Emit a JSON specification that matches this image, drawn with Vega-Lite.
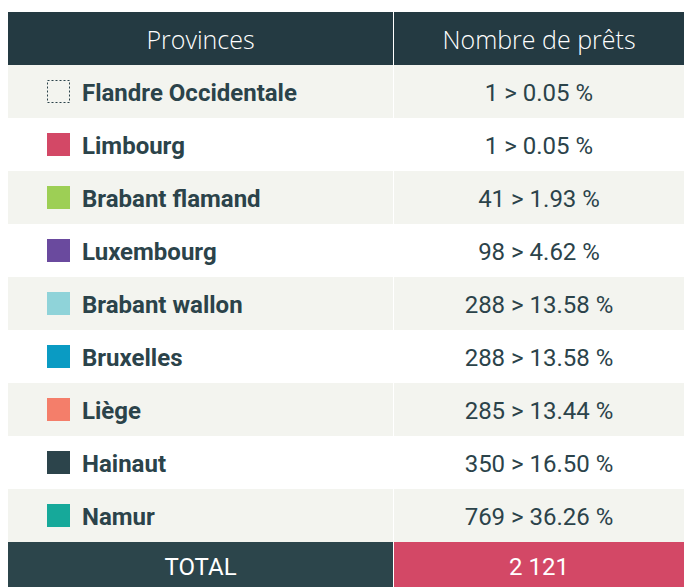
{
  "$schema": "https://vega.github.io/schema/vega-lite/v6.json",
  "padding": {"left": 8, "top": 12, "right": 0, "bottom": 0},
  "background": "#ffffff",
  "config": {"view": {"stroke": null}},
  "datasets": {
    "rows": [
      {"r": 0, "kind": "header", "province": "Provinces", "label": "Nombre de prêts"},
      {"r": 1, "kind": "odd", "province": "Flandre Occidentale", "count": 1, "pct": 0.05},
      {"r": 2, "kind": "even", "province": "Limbourg", "count": 1, "pct": 0.05},
      {"r": 3, "kind": "odd", "province": "Brabant flamand", "count": 41, "pct": 1.93},
      {"r": 4, "kind": "even", "province": "Luxembourg", "count": 98, "pct": 4.62},
      {"r": 5, "kind": "odd", "province": "Brabant wallon", "count": 288, "pct": 13.58},
      {"r": 6, "kind": "even", "province": "Bruxelles", "count": 288, "pct": 13.58},
      {"r": 7, "kind": "odd", "province": "Liège", "count": 285, "pct": 13.44},
      {"r": 8, "kind": "even", "province": "Hainaut", "count": 350, "pct": 16.50},
      {"r": 9, "kind": "odd", "province": "Namur", "count": 769, "pct": 36.26}
    ],
    "total": [{"label": "TOTAL", "value": "2 121"}]
  },
  "spacing": 0,
  "vconcat": [
    {
      "spacing": 1,
      "hconcat": [
        {
          "width": 385,
          "height": 530,
          "data": {"name": "rows"},
          "encoding": {"y": {"field": "r", "type": "ordinal", "axis": null, "scale": {"paddingInner": 0, "paddingOuter": 0}}},
          "layer": [
            {"mark": {"type": "rect"}, "encoding": {"fill": {"field": "kind", "type": "nominal", "scale": {"domain": ["header", "odd", "even"], "range": ["#243a42", "#f3f4ef", "#ffffff"]}, "legend": null}}},
            {"transform": [{"filter": "datum.kind == 'header'"}], "mark": {"type": "text", "font": "Open Sans", "fontWeight": 300, "fontSize": 25, "color": "#ffffff", "baseline": "middle", "dy": 2}, "encoding": {"text": {"field": "province"}}},
            {"transform": [{"filter": "datum.kind != 'header' && datum.province != 'Flandre Occidentale'"}], "mark": {"type": "point", "shape": "square", "size": 529, "filled": true, "opacity": 1}, "encoding": {"x": {"value": 50.5}, "color": {"field": "province", "type": "nominal", "scale": {"domain": ["Limbourg", "Brabant flamand", "Luxembourg", "Brabant wallon", "Bruxelles", "Liège", "Hainaut", "Namur"], "range": ["#d34866", "#9dcf55", "#6a4a9e", "#8fd3d9", "#0a9bc3", "#f47e6a", "#2c444b", "#16a99a"]}, "legend": null}}},
            {"transform": [{"filter": "datum.province == 'Flandre Occidentale'"}], "mark": {"type": "point", "shape": "square", "size": 484, "filled": false, "stroke": "#2b434a", "strokeWidth": 1, "strokeDash": [2, 2], "opacity": 1}, "encoding": {"x": {"value": 50.5}}},
            {"transform": [{"filter": "datum.kind != 'header'"}], "mark": {"type": "text", "font": "Roboto", "fontWeight": "bold", "fontSize": 24, "align": "left", "baseline": "middle", "dy": 2, "color": "#2b434a"}, "encoding": {"x": {"value": 74}, "text": {"field": "province"}}}
          ]
        },
        {
          "width": 290,
          "height": 530,
          "data": {"name": "rows"},
          "transform": [{"calculate": "datum.kind == 'header' ? datum.label : datum.count + ' > ' + format(datum.pct, '.2f') + ' %'", "as": "text"}],
          "encoding": {"y": {"field": "r", "type": "ordinal", "axis": null, "scale": {"paddingInner": 0, "paddingOuter": 0}}},
          "layer": [
            {"mark": {"type": "rect"}, "encoding": {"fill": {"field": "kind", "type": "nominal", "scale": {"domain": ["header", "odd", "even"], "range": ["#243a42", "#f3f4ef", "#ffffff"]}, "legend": null}}},
            {"transform": [{"filter": "datum.kind == 'header'"}], "mark": {"type": "text", "font": "Open Sans", "fontWeight": 300, "fontSize": 25, "color": "#ffffff", "baseline": "middle", "dy": 2}, "encoding": {"text": {"field": "text"}}},
            {"transform": [{"filter": "datum.kind != 'header'"}], "mark": {"type": "text", "font": "Roboto", "fontSize": 24, "baseline": "middle", "dy": 2, "color": "#2b434a"}, "encoding": {"text": {"field": "text"}}}
          ]
        }
      ]
    },
    {
      "spacing": 1,
      "hconcat": [
        {
          "width": 385,
          "height": 45,
          "data": {"name": "total"},
          "layer": [
            {"mark": {"type": "rect", "color": "#2c454b"}},
            {"mark": {"type": "text", "font": "Roboto", "fontSize": 24, "color": "#ffffff", "baseline": "middle", "dy": 3}, "encoding": {"text": {"field": "label"}}}
          ]
        },
        {
          "width": 290,
          "height": 45,
          "data": {"name": "total"},
          "layer": [
            {"mark": {"type": "rect", "color": "#d34866"}},
            {"mark": {"type": "text", "font": "Roboto", "fontSize": 24, "color": "#ffffff", "baseline": "middle", "dy": 3}, "encoding": {"text": {"field": "value"}}}
          ]
        }
      ]
    }
  ]
}
